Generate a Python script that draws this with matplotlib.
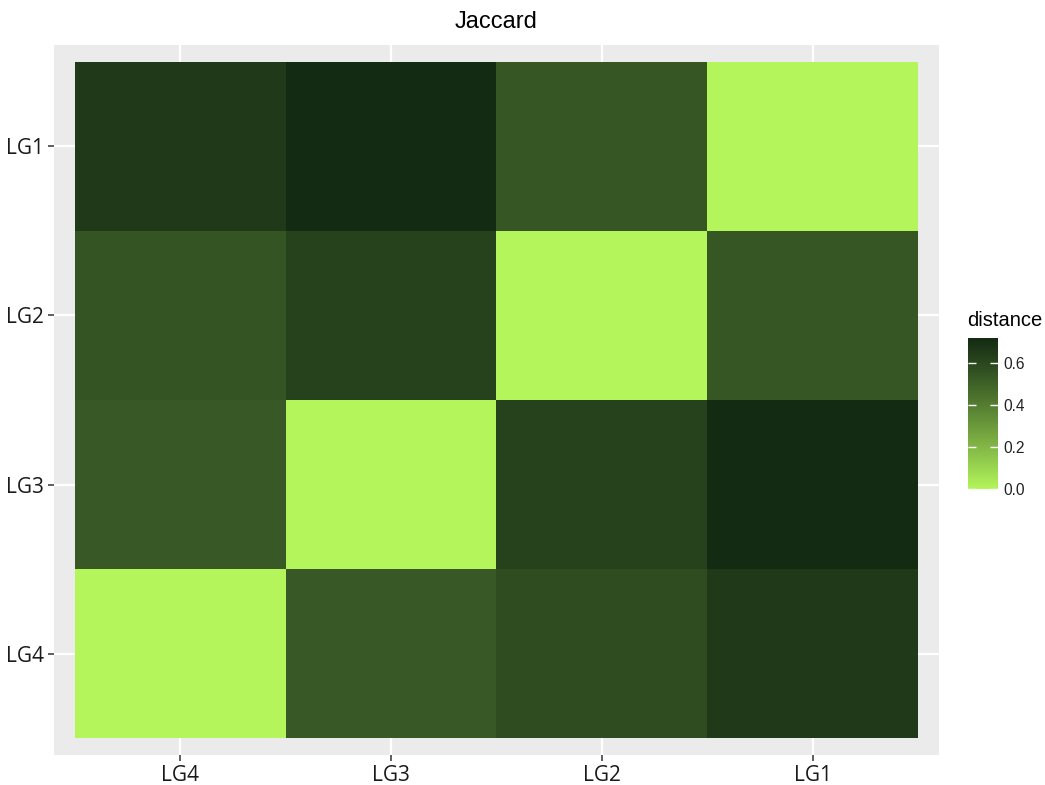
import numpy as np
import matplotlib
matplotlib.use('Agg')
import matplotlib.pyplot as plt
from matplotlib.colors import ListedColormap, Normalize

# data: rows top -> bottom, columns left -> right
row_labels = ['LG1', 'LG2', 'LG3', 'LG4']
col_labels = ['LG4', 'LG3', 'LG2', 'LG1']
dist_lg1 = [0.65, 0.72, 0.54, 0.00]
dist_lg2 = [0.55, 0.62, 0.00, 0.54]
dist_lg3 = [0.53, 0.00, 0.62, 0.72]
dist_lg4 = [0.00, 0.53, 0.58, 0.65]
legend_ticks = [0.0, 0.2, 0.4, 0.6]

LOW, HIGH = '#B3F55B', '#132A13'


def srgb_to_lab(rgb):
    c = np.asarray(rgb, dtype=float)
    lin = np.where(c <= 0.04045, c / 12.92, ((c + 0.055) / 1.055) ** 2.4)
    M = np.array([[0.4124, 0.3576, 0.1805],
                  [0.2126, 0.7152, 0.0722],
                  [0.0193, 0.1192, 0.9505]])
    xyz = M @ lin / np.array([0.95047, 1.0, 1.08883])
    f = np.where(xyz > 0.008856, np.cbrt(xyz), 7.787 * xyz + 16 / 116)
    return np.array([116 * f[1] - 16, 500 * (f[0] - f[1]), 200 * (f[1] - f[2])])


def lab_to_srgb(lab):
    L, a, b = lab
    fy = (L + 16) / 116
    fx = fy + a / 500
    fz = fy - b / 200
    f = np.array([fx, fy, fz])
    xyz = np.where(f ** 3 > 0.008856, f ** 3, (f - 16 / 116) / 7.787)
    xyz = xyz * np.array([0.95047, 1.0, 1.08883])
    Minv = np.array([[3.2406, -1.5372, -0.4986],
                     [-0.9689, 1.8758, 0.0415],
                     [0.0557, -0.2040, 1.0570]])
    lin = Minv @ xyz
    c = np.where(lin <= 0.0031308, 12.92 * lin, 1.055 * np.clip(lin, 0, None) ** (1 / 2.4) - 0.055)
    return np.clip(c, 0, 1)


def lab_cmap(low, high, n=256):
    lo = srgb_to_lab(matplotlib.colors.to_rgb(low))
    hi = srgb_to_lab(matplotlib.colors.to_rgb(high))
    cols = [lab_to_srgb(lo + t * (hi - lo)) for t in np.linspace(0, 1, n)]
    return ListedColormap(cols)


dist = np.array([dist_lg1, dist_lg2, dist_lg3, dist_lg4])
cmap = lab_cmap(LOW, HIGH)
norm = Normalize(vmin=dist.min(), vmax=dist.max())

W, H = 1045, 785
fig = plt.figure(figsize=(W / 100, H / 100), dpi=100)
ax = fig.add_axes([54 / W, 1 - 755 / H, (939 - 54) / W, (755 - 45) / H])
ax.set_facecolor('#EBEBEB')
for s in ax.spines.values():
    s.set_visible(False)

n = len(col_labels)
mesh = ax.pcolormesh(np.arange(n + 1) - 0.5, np.arange(n + 1) - 0.5, dist[::-1],
                     cmap=cmap, norm=norm)
ax.set_xlim(-0.6, n - 0.4)
ax.set_ylim(-0.6, n - 0.4)
ax.set_xticks(range(n))
ax.set_xticklabels(col_labels)
ax.set_yticks(range(n))
ax.set_yticklabels(row_labels[::-1])
ax.set_axisbelow(True)
ax.grid(True, color='white', linewidth=1.6)
ax.tick_params(length=4, width=1.1, color='#333333', labelcolor='#1A1A1A',
               labelsize=15, pad=3)
for lab in ax.get_xticklabels() + ax.get_yticklabels():
    lab.set_family(['Open Sans', 'DejaVu Sans'])

fig.text((54 + 939) / 2 / W, 1 - 22 / H, 'Jaccard', ha='center', va='center',
         fontsize=17, family=['Liberation Sans', 'DejaVu Sans'])

# colour bar
cax = fig.add_axes([968 / W, 1 - 489 / H, 30 / W, (489 - 338) / H])
cb = fig.colorbar(mesh, cax=cax)
cb.outline.set_visible(False)
cb.set_ticks(legend_ticks)
cb.set_ticklabels([f'{t:.1f}' for t in legend_ticks])
cax.tick_params(direction='in', length=6, width=1, color='white', left=True,
                right=True, labelsize=11.2, labelcolor='#222222', pad=4)
for lab in cax.get_yticklabels():
    lab.set_family(['Liberation Sans', 'DejaVu Sans'])
fig.text(967 / W, 1 - 320 / H, 'distance', ha='left', va='center', fontsize=14.5,
         family=['Liberation Sans', 'DejaVu Sans'])

fig.savefig('out.png', dpi=100)
